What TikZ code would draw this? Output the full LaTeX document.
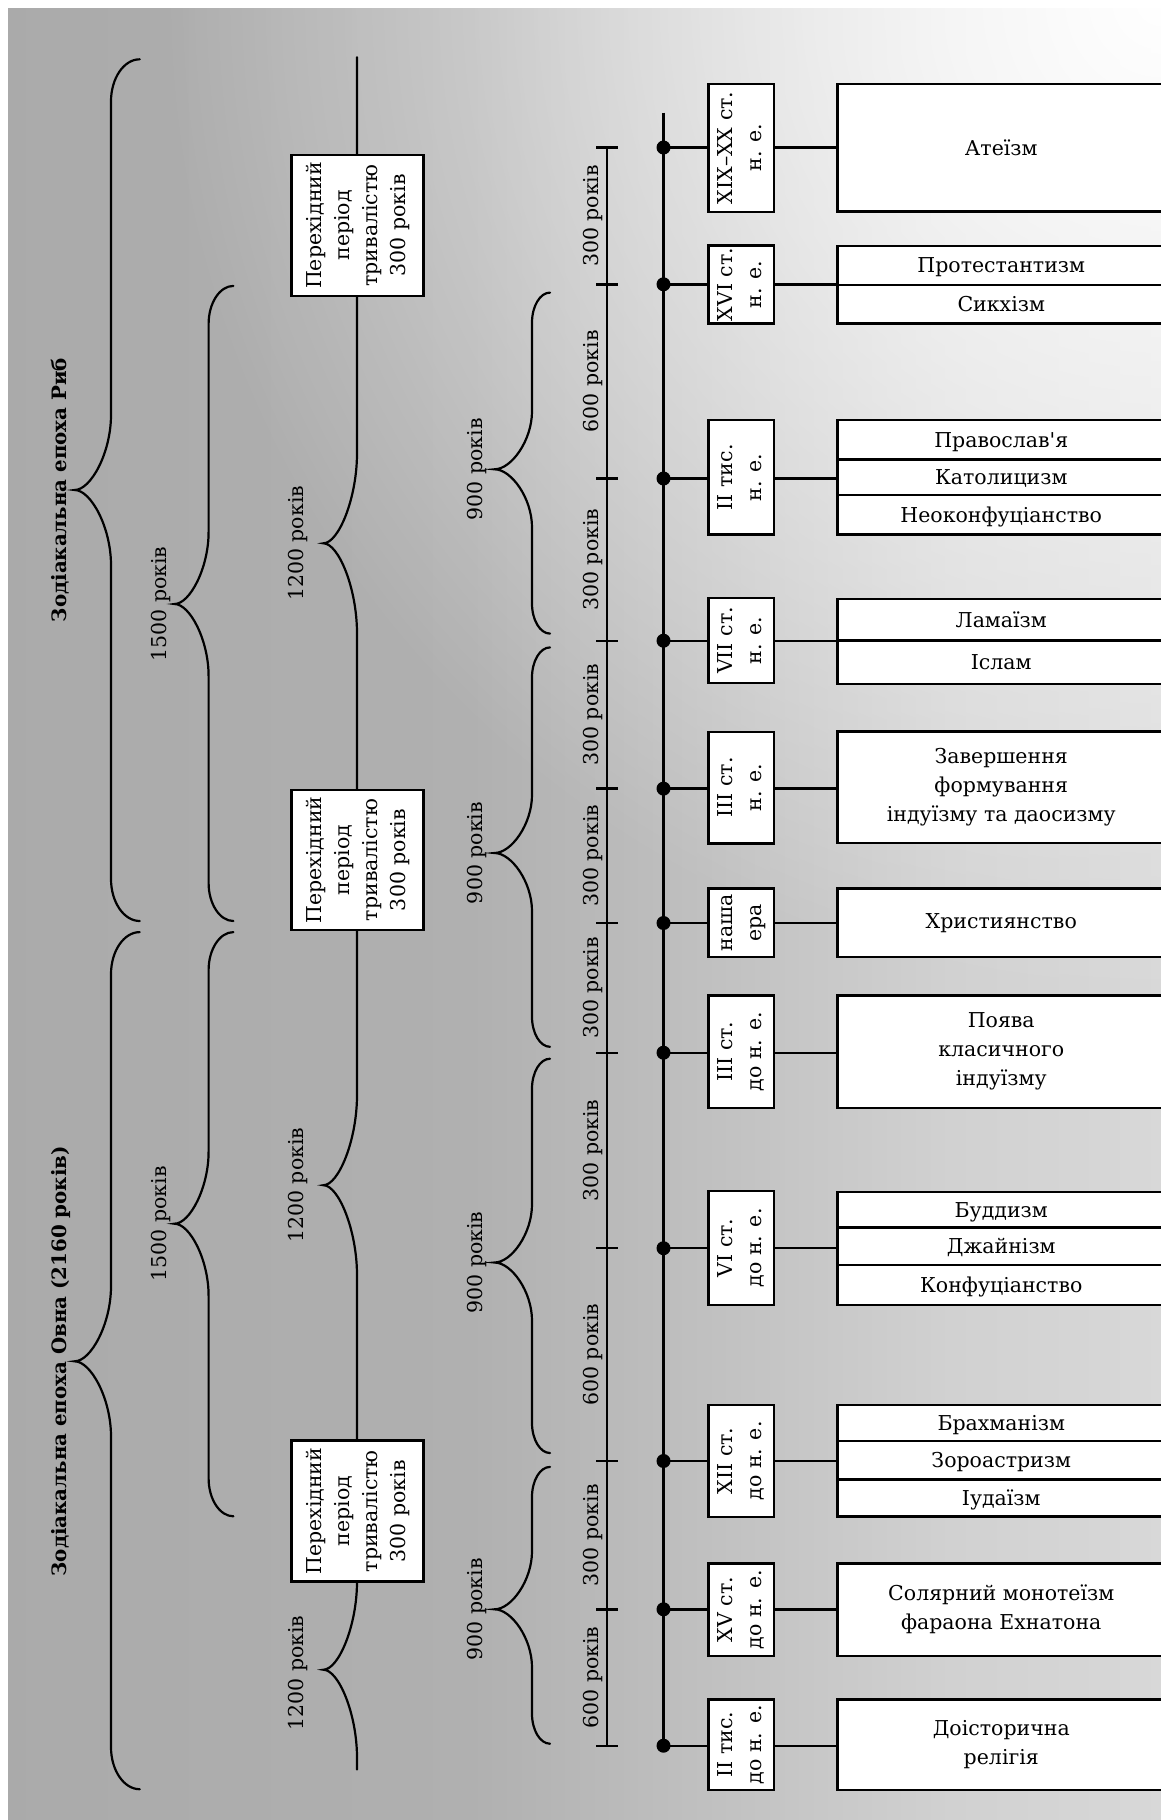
\documentclass[tikz,border=0pt]{standalone}
\usepackage{fontspec}
\setmainfont{DejaVu Serif}
\usetikzlibrary{fadings}
\definecolor{bgA}{gray}{0.64}
\definecolor{bgB}{gray}{0.69}
\definecolor{bgC}{gray}{0.82}
\definecolor{bgD}{gray}{0.92}
\pgfdeclarehorizontalshading{bgshade}{100bp}{color(0bp)=(bgA); color(45bp)=(bgB); color(66bp)=(bgC); color(100bp)=(bgD)}
\tikzfading[name=glowfade, inner color=transparent!0, outer color=transparent!100]
\newcommand\myfs{\fontsize{20.5}{29}\selectfont}
\newcommand\myfsc{\fontsize{20.5}{28}\selectfont}
\newcommand\myfst{\fontsize{19.8}{24}\selectfont\bfseries}
\newcommand\rottwo[2]{\rotatebox{90}{\begin{tabular}{@{}c@{}}#1\\#2\end{tabular}}}
\newcommand\transtext{\rotatebox{90}{\begin{tabular}{@{}c@{}}Перехідний\\період\\тривалістю\\300 років\end{tabular}}}
% #1 xe, #2 xv, #3 xt, #4 yt, #5 ym, #6 yb, #7 end curl, #8 tip curl
\newcommand\drawbrace[8]{%
 \draw[bracestyle] (#1,#4) .. controls ({#2+0.45*(#1-#2)},#4) and (#2,{#4+0.45*#7}) .. (#2,{#4+#7})
  -- (#2,{#5-#8}) .. controls (#2,{#5-0.5*#8}) and ({#3+0.45*(#2-#3)},#5) .. (#3,#5)
  .. controls ({#3+0.45*(#2-#3)},#5) and (#2,{#5+0.5*#8}) .. (#2,{#5+#8})
  -- (#2,{#6-#7}) .. controls (#2,{#6-0.45*#7}) and ({#2+0.45*(#1-#2)},#6) .. (#1,#6);}
\begin{document}
\begin{tikzpicture}[x=1pt,y=-1pt,
  bracestyle/.style={line width=2.2pt, line cap=round},
  box/.style={draw, fill=white, line width=2.5pt, inner sep=0pt},
  datebox/.style={box, minimum width=65.5pt, font=\myfs},
  relbox/.style={box, minimum width=327.5pt, align=center, font=\myfs},
  rowbox/.style={relbox, text height=14.9pt, text depth=0pt},
  transbox/.style={box, minimum width=131.6pt, font=\myfsc},
  lbl/.style={rotate=90, anchor=base, inner sep=0pt, font=\myfs},
  ttl/.style={rotate=90, anchor=base, inner sep=0pt, font=\myfst},
  dot/.style={circle, fill=black, inner sep=0pt, minimum size=14pt},
  conn/.style={line width=2.4pt},
  rulerline/.style={line width=2.4pt},
]
\useasboundingbox (0,0) rectangle (1161,1820);
\clip (0,0) rectangle (1161,1820);
% background
\fill[white] (0,0) rectangle (1161,1820);
\shade[shading=bgshade] (8,8) rectangle (1161,1820);
\fill[white, path fading=glowfade, fit fading=true] (1161,0) circle (1000);

% zodiac braces
\drawbrace{139.7}{111}{74.6}{59.3}{490}{921}{42}{75}
\drawbrace{139.7}{111}{74.6}{932.1}{1361.3}{1789.2}{42}{75}
% 1500 braces
\drawbrace{233.4}{208.6}{174.5}{285.9}{604}{921}{38}{72}
\drawbrace{233.4}{208.6}{174.5}{932.1}{1223.7}{1516.3}{38}{72}
% 900 braces
\drawbrace{550}{532}{494.5}{292.6}{469.3}{633.6}{30}{58}
\drawbrace{550}{532}{494.5}{647.4}{853}{1046.8}{30}{58}
\drawbrace{550}{532}{494.5}{1058.7}{1262.5}{1453}{30}{58}
\drawbrace{550}{532}{494.5}{1466.9}{1609.3}{1743.7}{30}{58}
% 1200 chain
\draw[bracestyle] (357,57.3) -- (357,453.3)
  .. controls (357,498.3) and (338.5,543.3) .. (323.4,543.3)
  .. controls (338.5,543.3) and (357,588.3) .. (357,633.3)
  -- (357,1095.2)
  .. controls (357,1140.2) and (338.5,1185.2) .. (323.4,1185.2)
  .. controls (338.5,1185.2) and (357,1230.2) .. (357,1275.2)
  -- (357,1581.7)
  .. controls (357,1625.7) and (338.5,1669.7) .. (323.4,1669.7)
  .. controls (338.5,1669.7) and (357,1713.7) .. (357,1757.7)
  -- (357,1769.4);
% transition boxes
\node[transbox, minimum height=140.8pt] (t1) at (357.5,225.4) {\transtext};
\node[transbox, minimum height=140.4pt] (t2) at (357.5,860) {\transtext};
\node[transbox, minimum height=141pt] (t3) at (357.5,1511.2) {\transtext};

% titles and brace labels
\node[ttl] (ttlA) at (66,490) {Зодіакальна епоха Риб};
\node[ttl] (ttlB) at (66,1361.3) {Зодіакальна епоха Овна (2160 років)};
\node[lbl] (b15a) at (166,604) {1500 років};
\node[lbl] (b15b) at (166,1223.7) {1500 років};
\node[lbl] (b12a) at (303.3,543.3) {1200 років};
\node[lbl] (b12b) at (303.3,1185.2) {1200 років};
\node[lbl] (b12c) at (303.3,1673) {1200 років};
\node[lbl] (b9a) at (482,469.3) {900 років};
\node[lbl] (b9b) at (482,853) {900 років};
\node[lbl] (b9c) at (482,1262.5) {900 років};
\node[lbl] (b9d) at (482,1609.3) {900 років};

% ruler
\draw[rulerline] (606.8,147.5) -- (606.8,1745.7);
\foreach \yy in {147.5,284.3,478.5,640.7,788.6,923,1052.7,1248.2,1461,1609.3,1745.7}
  \draw[rulerline] (596.4,\yy) -- (618.3,\yy);
\node[lbl] (s1) at (598,215.9) {300 років};
\node[lbl] (s2) at (598,381.4) {600 років};
\node[lbl] (s3) at (598,559.6) {300 років};
\node[lbl] (s4) at (598,714.7) {300 років};
\node[lbl] (s5) at (598,855.8) {300 років};
\node[lbl] (s6) at (598,987.9) {300 років};
\node[lbl] (s7) at (598,1150.5) {300 років};
\node[lbl] (s8) at (598,1354.6) {600 років};
\node[lbl] (s9) at (598,1535.2) {300 років};
\node[lbl] (s10) at (598,1677.5) {600 років};

% date boxes
\node[datebox, minimum height=127.7pt] (d1) at (741.3,147.9) {\rottwo{XIX–XX ст.}{н. е.}};
\node[datebox, minimum height=78pt] (d2) at (741.3,284.7) {\rottwo{XVI ст.}{н. е.}};
\node[datebox, minimum height=114.7pt] (d3) at (741.3,477.3) {\rottwo{II тис.}{н. е.}};
\node[datebox, minimum height=85pt] (d4) at (741.3,640.5) {\rottwo{VII ст.}{н. е.}};
\node[datebox, minimum height=111.5pt] (d5) at (741.3,787.5) {\rottwo{III ст.}{н. е.}};
\node[datebox, minimum height=68.7pt] (d6) at (741.3,922.7) {\rottwo{наша}{ера}};
\node[datebox, minimum height=112.6pt] (d7) at (741.3,1051.7) {\rottwo{III ст.}{до н. е.}};
\node[datebox, minimum height=113.8pt] (d8) at (741.3,1247.9) {\rottwo{VI ст.}{до н. е.}};
\node[datebox, minimum height=111.7pt] (d9) at (741.3,1460.9) {\rottwo{XII ст.}{до н. е.}};
\node[datebox, minimum height=92.7pt] (d10) at (741.3,1609.7) {\rottwo{XV ст.}{до н. е.}};
\node[datebox, minimum height=90.7pt] (d11) at (741.3,1744.7) {\rottwo{II тис.}{до н. е.}};

% religion boxes
\node[relbox, minimum height=127.7pt] (r1) at (1001.25,147.85) {Атеїзм};
\node[rowbox, minimum height=39pt] (r2a) at (1001.25,265.5) {Протестантизм};
\node[rowbox, minimum height=38.3pt] (r2b) at (1001.25,304.15) {Сикхізм};
\node[rowbox, minimum height=39.6pt] (r3a) at (1001.25,439.7) {Православ\textquotesingle я};
\node[rowbox, minimum height=35.6pt] (r3b) at (1001.25,477.3) {Католицизм};
\node[rowbox, minimum height=39.5pt] (r3c) at (1001.25,514.85) {Неоконфуціанство};
\node[rowbox, minimum height=41.7pt] (r4a) at (1001.25,619.85) {Ламаїзм};
\node[rowbox, minimum height=43.1pt] (r4b) at (1001.25,662.25) {Іслам};
\node[relbox, minimum height=111.5pt] (r5) at (1001.25,787.45) {Завершення\\формування\\індуїзму та даосизму};
\node[relbox, minimum height=68.7pt] (r6) at (1001.25,922.65) {Християнство};
\node[relbox, minimum height=112.6pt] (r7) at (1001.25,1051.7) {Поява\\класичного\\індуїзму};
\node[rowbox, minimum height=35.7pt] (r8a) at (1001.25,1209.85) {Буддизм};
\node[rowbox, minimum height=37.5pt] (r8b) at (1001.25,1246.45) {Джайнізм};
\node[rowbox, minimum height=39.6pt] (r8c) at (1001.25,1285) {Конфуціанство};
\node[rowbox, minimum height=36pt] (r9a) at (1001.25,1423) {Брахманізм};
\node[rowbox, minimum height=38.3pt] (r9b) at (1001.25,1460.15) {Зороастризм};
\node[rowbox, minimum height=37.2pt] (r9c) at (1001.25,1497.9) {Іудаїзм};
\node[relbox, minimum height=92.7pt] (r10) at (1001.25,1609.65) {Солярний монотеїзм\\фараона Ехнатона};
\node[relbox, minimum height=90.7pt] (r11) at (1001.25,1744.65) {Доісторична\\релігія};

% main timeline
\node[dot] (p1) at (663.5,147.5) {};
\node[dot] (p2) at (663.5,284.3) {};
\node[dot] (p3) at (663.5,478.5) {};
\node[dot] (p4) at (663.5,640.7) {};
\node[dot] (p5) at (663.5,788.6) {};
\node[dot] (p6) at (663.5,923) {};
\node[dot] (p7) at (663.5,1052.7) {};
\node[dot] (p8) at (663.5,1248.2) {};
\node[dot] (p9) at (663.5,1461) {};
\node[dot] (p10) at (663.5,1609.3) {};
\node[dot] (p11) at (663.5,1745.7) {};
\coordinate (ltop) at (663.5,112.7);
\draw[rulerline] (ltop) -- (p11.center);

% connectors
\foreach \k/\r in {1/r1,2/r2a,3/r3b,4/r4a,5/r5,6/r6,7/r7,8/r8b,9/r9b,10/r10,11/r11}{
  \draw[conn] (p\k.center) -- (p\k -| d\k.west);
  \draw[conn] (p\k -| d\k.east) -- (p\k -| \r.west);
}
\end{tikzpicture}
\end{document}
